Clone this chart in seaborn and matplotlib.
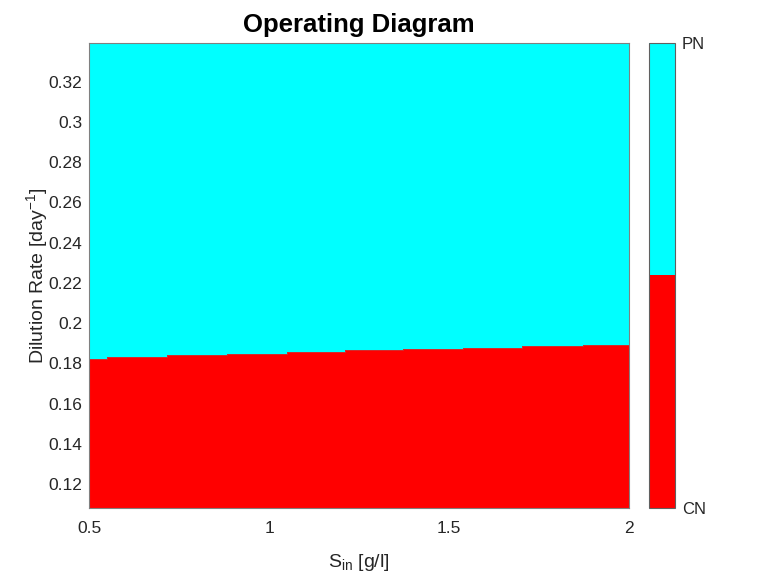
import numpy as np
import matplotlib
matplotlib.use("Agg")
import matplotlib.pyplot as plt
import seaborn as sns
from matplotlib.colors import ListedColormap, BoundaryNorm
import matplotlib.colorbar as mcolorbar

# ---- data ----
s_in_edges = [0.5, 0.549, 0.7175, 0.8825, 1.049, 1.211, 1.373, 1.540, 1.704, 1.871, 2.0]
d_boundary = [0.1824, 0.1832, 0.1840, 0.1847, 0.1855, 0.1864, 0.1870, 0.1878, 0.1885, 0.1893]
d_min, d_max = 0.108, 0.3393
regime_labels = ["CN", "PN"]
regime_colors = ["#ff0000", "#00ffff"]
x_ticks = [0.5, 1, 1.5, 2]
x_tick_labels = ["0.5", "1", "1.5", "2"]
y_ticks = [0.12, 0.14, 0.16, 0.18, 0.2, 0.22, 0.24, 0.26, 0.28, 0.3, 0.32]
y_tick_labels = ["0.12", "0.14", "0.16", "0.18", "0.2", "0.22", "0.24", "0.26", "0.28", "0.3", "0.32"]

sns.set_theme(style="white")
plt.rcParams["font.family"] = ["Liberation Sans", "DejaVu Sans"]
plt.rcParams["mathtext.fontset"] = "custom"
plt.rcParams["mathtext.rm"] = "Liberation Sans"
plt.rcParams["mathtext.it"] = "Liberation Sans"
plt.rcParams["mathtext.default"] = "regular"

fig = plt.figure(figsize=(7.68, 5.76), dpi=100)
ax = fig.add_axes([89/768, 1 - 508.3/576, 540/768, (508.3 - 42.7)/576])

xs = np.array(s_in_edges)
ys = np.array(d_boundary + [d_boundary[-1]])
ax.fill_between(xs, d_min, ys, step="post", color=regime_colors[0], linewidth=0)
ax.fill_between(xs, ys, d_max, step="post", color=regime_colors[1], linewidth=0)
ax.plot(xs, ys, drawstyle="steps-post", color="#808080", lw=0.5, alpha=0.5)

ax.set_xlim(s_in_edges[0], s_in_edges[-1])
ax.set_ylim(d_min, d_max)
ax.set_xticks(x_ticks)
ax.set_xticklabels(x_tick_labels)
ax.set_yticks(y_ticks)
ax.set_yticklabels(y_tick_labels)
ax.tick_params(axis="y", labelsize=12.5, colors="#262626", length=0, pad=5)
ax.tick_params(axis="x", labelsize=12.5, colors="#262626", length=0, pad=9)
for side, sp in ax.spines.items():
    sp.set_color("#808080")
    sp.set_linewidth(0.8)
ax.set_title("Operating Diagram", fontsize=18.5, fontweight="bold", color="black", pad=8)
ax.set_xlabel(r"S$_{\mathrm{in}}$ [g/l]", fontsize=14, color="#262626", labelpad=12)
ax.set_ylabel(r"Dilution Rate [day$^{-1}$]", fontsize=14, color="#262626", labelpad=-1)

cax = fig.add_axes([649/768, 1 - 507.5/576, 26/768, (507.5 - 42.7)/576])
cmap = ListedColormap(regime_colors)
norm = BoundaryNorm([0, 1, 2], cmap.N)
cb = mcolorbar.ColorbarBase(cax, cmap=cmap, norm=norm, orientation="vertical")
cb.set_ticks([0, 2])
cb.set_ticklabels(regime_labels)
cb.ax.minorticks_off()
cb.ax.tick_params(which="both", labelsize=12, colors="#262626", length=0, pad=5)
cb.outline.set_edgecolor("#606060")
cb.outline.set_linewidth(0.8)

fig.savefig("out.png", dpi=100)
